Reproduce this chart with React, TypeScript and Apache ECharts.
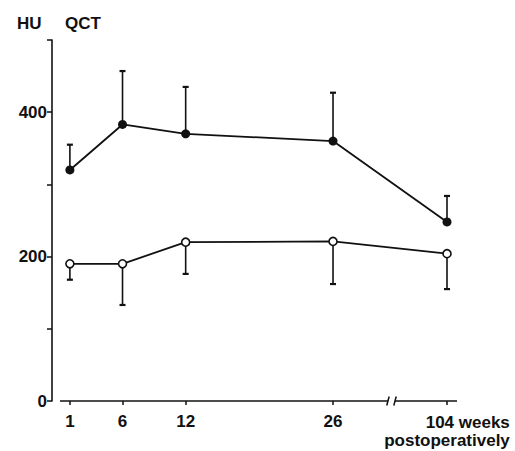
import React, { useEffect, useRef } from 'react';
import * as echarts from 'echarts';

// ---- data ----
const weeks = [1, 6, 12, 26, 104];
const xTickLabels = ['1', '6', '12', '26', '104'];
const filledMean = [320, 383, 370, 360, 248];
const filledUpper = [355, 457, 435, 427, 284];
const openMean = [190, 190, 220, 221, 204];
const openLower = [168, 133, 176, 162, 155];
const yTickLabels = [0, 200, 400];
// x axis drawn in two pieces around the break (axis units)
const xAxisSegments = [
  [0.06, 31.22],
  [31.89, 37.78],
];

// weeks up to 26 are on a linear scale; 104 sits after the axis break
const BREAK_POS = 36.83;
const pos = (w: number) => (w <= 26 ? w : BREAK_POS);

const INK = '#111';
const FONT = 'Liberation Sans, Arial, Helvetica, sans-serif';

export default function App() {
  const ref = useRef<HTMLDivElement>(null);

  useEffect(() => {
    document.body.style.margin = '0';
    const chart = echarts.init(ref.current!, null, { renderer: 'svg' });

    const positions = weeks.map(pos);

    const errRender = () => (params: any, api: any) => {
      const x = api.value(0);
      const p0 = api.coord([x, api.value(1)]);
      const p1 = api.coord([x, api.value(2)]);
      return {
        type: 'group',
        children: [
          { type: 'line', shape: { x1: p0[0], y1: p0[1], x2: p1[0], y2: p1[1] }, style: { stroke: INK, lineWidth: 1.6 } },
          {
            type: 'line',
            shape: { x1: p1[0] - 3, y1: p1[1], x2: p1[0] + 3, y2: p1[1] },
            style: { stroke: INK, lineWidth: 2.2 },
          },
        ],
      };
    };

    const txt = { color: INK, fontSize: 17, fontFamily: FONT, fontWeight: 'bold' as const };

    chart.setOption({
      animation: false,
      backgroundColor: '#fff',
      grid: { left: 52, right: 42, top: 40, bottom: 50, outerBoundsMode: 'none', containLabel: false },
      graphic: [
        { type: 'text', left: 17, top: 15, style: { text: 'HU', font: `bold 17px ${FONT}`, fill: INK } },
        { type: 'text', left: 65, top: 15, style: { text: 'QCT', font: `bold 17px ${FONT}`, fill: INK } },
      ],
      xAxis: {
        type: 'value',
        min: -0.7,
        max: 39.3,
        axisLine: { show: false, onZero: false },
        splitLine: { show: false },
        axisTick: {
          show: true,
          customValues: positions,
          length: 4,
          lineStyle: { color: INK, width: 1.5 },
        },
        axisLabel: {
          customValues: positions,
          margin: 12,
          ...txt,
          formatter: (v: number) => {
            const i = positions.findIndex((p) => Math.abs(p - v) < 0.01);
            if (i < 0) return '';
            if (weeks[i] === 104) return `{a|${xTickLabels[i]} weeks}\n{b|postoperatively}`;
            return xTickLabels[i];
          },
          rich: {
            a: { align: 'right', ...txt, lineHeight: 18 },
            b: { align: 'right', ...txt, lineHeight: 18 },
          },
        },
      },
      yAxis: {
        type: 'value',
        min: 0,
        max: 500,
        interval: 100,
        axisLine: { show: true, onZero: false, lineStyle: { color: INK, width: 1.6 } },
        axisTick: { show: true, length: 5, lineStyle: { color: INK, width: 1.5 } },
        splitLine: { show: false },
        axisLabel: {
          margin: 5,
          ...txt,
          formatter: (v: number) => (yTickLabels.includes(v) ? String(v) : ''),
        },
      },
      series: [
        {
          type: 'custom',
          name: 'axis',
          silent: true,
          data: xAxisSegments.map((s, i) => [s[0], s[1], i]),
          renderItem: (params: any, api: any) => {
            const a = api.coord([api.value(0), 0]);
            const b = api.coord([api.value(1), 0]);
            const idx = api.value(2);
            const mx = idx === 0 ? b[0] : a[0];
            return {
              type: 'group',
              children: [
                { type: 'line', shape: { x1: a[0], y1: a[1], x2: b[0], y2: b[1] }, style: { stroke: INK, lineWidth: 1.6 } },
                { type: 'line', shape: { x1: mx - 1.2, y1: a[1] + 4.5, x2: mx + 1.2, y2: a[1] - 4.5 }, style: { stroke: INK, lineWidth: 1.5 } },
              ],
            };
          },
        },
        {
          type: 'custom',
          name: 'filledErr',
          silent: true,
          data: weeks.map((w, i) => [pos(w), filledMean[i], filledUpper[i]]),
          renderItem: errRender(),
        },
        {
          type: 'custom',
          name: 'openErr',
          silent: true,
          data: weeks.map((w, i) => [pos(w), openMean[i], openLower[i]]),
          renderItem: errRender(),
        },
        {
          type: 'line',
          name: 'filled',
          data: weeks.map((w, i) => [pos(w), filledMean[i]]),
          symbol: 'circle',
          symbolSize: 9,
          lineStyle: { color: INK, width: 1.8 },
          itemStyle: { color: INK },
          z: 5,
        },
        {
          type: 'line',
          name: 'open',
          data: weeks.map((w, i) => [pos(w), openMean[i]]),
          symbol: 'circle',
          symbolSize: 8,
          lineStyle: { color: INK, width: 1.8 },
          itemStyle: { color: '#fff', borderColor: INK, borderWidth: 1.6 },
          z: 5,
        },
      ],
    });

    return () => chart.dispose();
  }, []);

  return (
    <div
      ref={ref}
      style={{ position: 'fixed', left: 0, top: 0, width: 515, height: 451, background: '#fff' }}
    />
  );
}
